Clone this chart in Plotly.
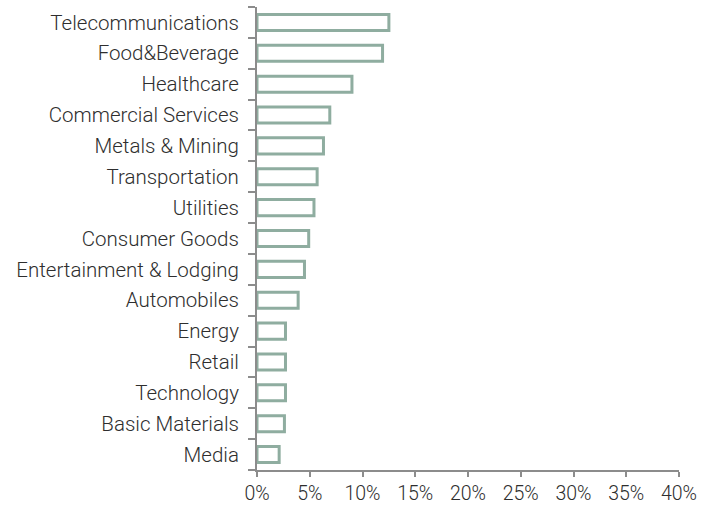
import plotly.graph_objects as go

# Sector weights (%), listed top to bottom
sectors = [
    "Telecommunications", "Food&Beverage", "Healthcare", "Commercial Services",
    "Metals & Mining", "Transportation", "Utilities", "Consumer Goods",
    "Entertainment & Lodging", "Automobiles", "Energy", "Retail",
    "Technology", "Basic Materials", "Media",
]
weights = [12.5, 11.9, 9.0, 6.9, 6.3, 5.7, 5.4, 4.9, 4.5, 3.9, 2.7, 2.7, 2.7, 2.6, 2.1]

x_ticks = [0, 5, 10, 15, 20, 25, 30, 35, 40]
x_tick_labels = [f"{v}%" for v in x_ticks]

outline = "#8fada0"
axis_grey = "#8c8c8c"
text_col = "#2e2e2e"

fig = go.Figure(
    go.Bar(
        y=sectors,
        x=weights,
        orientation="h",
        marker=dict(color="white", line=dict(color=outline, width=3)),
        hoverinfo="x+y",
    )
)

fig.update_layout(
    width=702,
    height=508,
    margin=dict(l=257, r=23, t=7, b=38),
    paper_bgcolor="white",
    plot_bgcolor="white",
    bargap=0.48,
    showlegend=False,
    font=dict(family="Roboto", size=20.5, color=text_col, weight=300),
)

fig.update_yaxes(
    categoryorder="array",
    categoryarray=sectors[::-1],
    automargin=False,
    showline=True,
    linecolor=axis_grey,
    linewidth=2,
    ticks="outside",
    tickson="boundaries",
    ticklen=7,
    tickwidth=2,
    tickcolor=axis_grey,
    ticklabelstandoff=12,
    showgrid=False,
    zeroline=False,
)

fig.update_xaxes(
    range=[0, 40],
    tickvals=x_ticks,
    ticktext=x_tick_labels,
    automargin=False,
    showline=True,
    linecolor=axis_grey,
    linewidth=2,
    ticks="outside",
    ticklen=5,
    tickwidth=2,
    tickcolor=axis_grey,
    tickfont=dict(size=19.5),
    showgrid=False,
    zeroline=False,
)

fig.write_html("out.html")
